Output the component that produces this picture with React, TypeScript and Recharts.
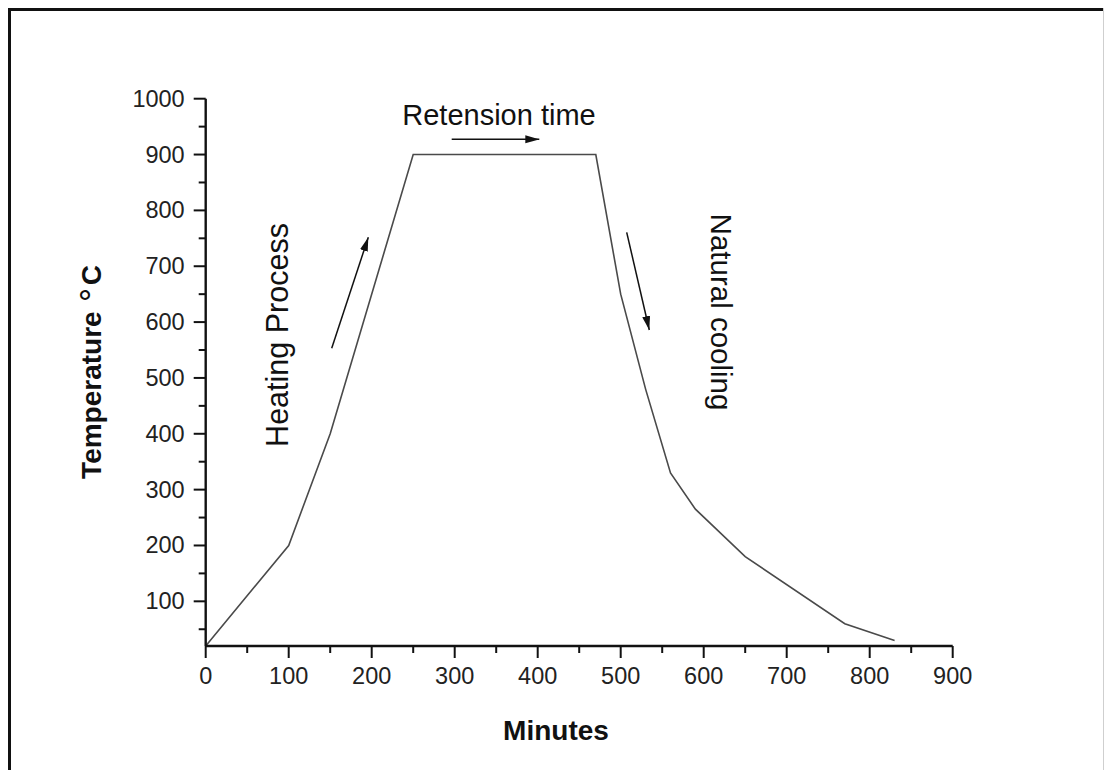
import React from "react";
import { LineChart, Line, XAxis, YAxis } from "recharts";

// heating / cooling profile
const minutes = [0, 100, 150, 250, 470, 500, 530, 560, 590, 650, 770, 830];
const temperature = [20, 200, 400, 900, 900, 650, 480, 330, 265, 180, 60, 30];

// major + minor ticks (minor ones carry no label)
const xTicks = [0, 50, 100, 150, 200, 250, 300, 350, 400, 450, 500, 550, 600, 650, 700, 750, 800, 850, 900];
const yTicks = [50, 100, 150, 200, 250, 300, 350, 400, 450, 500, 550, 600, 650, 700, 750, 800, 850, 900, 950, 1000];

const FONT = '"Liberation Sans", Arial, Helvetica, sans-serif';
const INK = "#111";

const data = minutes.map((m, i) => ({ minute: m, temp: temperature[i] }));

const YTick = ({ x, y, payload }: any) => {
    const major = payload.value % 100 === 0;
    return (
        <g>
            <line x1={x} x2={x - (major ? 12 : 7)} y1={y} y2={y} stroke={INK} strokeWidth={2} />
            {major && (
                <text x={x - 21} y={y + 8} textAnchor="end" fontSize={23.5} fontFamily={FONT} fill="#222">
                    {payload.value}
                </text>
            )}
        </g>
    );
};

const XTick = ({ x, y, payload }: any) => {
    const major = payload.value % 100 === 0;
    return (
        <g>
            <line x1={x} x2={x} y1={y} y2={y + (major ? 12 : 7)} stroke={INK} strokeWidth={2} />
            {major && (
                <text x={x} y={y + 38} textAnchor="middle" fontSize={23.5} fontFamily={FONT} fill="#222">
                    {payload.value}
                </text>
            )}
        </g>
    );
};

export default function App() {
    return (
        <div style={{ position: "absolute", left: 0, top: 0, width: 1105, height: 770, background: "#fff" }}>
            <LineChart
                width={1105}
                height={770}
                data={data}
                margin={{ top: 98.7, right: 152.3, bottom: 84, left: 125.7 }}
            >
                <XAxis
                    dataKey="minute"
                    type="number"
                    domain={[0, 900]}
                    ticks={xTicks}
                    interval={0}
                    tickLine={false}
                    tickSize={0}
                    tickMargin={0}
                    tick={<XTick />}
                    axisLine={{ stroke: INK, strokeWidth: 2.4 }}
                    height={40}
                />
                <XAxis
                    xAxisId="top"
                    orientation="top"
                    dataKey="minute"
                    type="number"
                    domain={[0, 900]}
                    tick={false}
                    tickLine={false}
                    axisLine={{ stroke: INK, strokeWidth: 2.4 }}
                    height={0}
                />
                <YAxis
                    type="number"
                    domain={[20, 1000]}
                    ticks={yTicks}
                    interval={0}
                    tickLine={false}
                    tickSize={0}
                    tickMargin={0}
                    tick={<YTick />}
                    axisLine={{ stroke: INK, strokeWidth: 2.4 }}
                    width={80}
                />
                <YAxis
                    yAxisId="right"
                    orientation="right"
                    type="number"
                    domain={[20, 1000]}
                    tick={false}
                    tickLine={false}
                    axisLine={{ stroke: INK, strokeWidth: 2.4 }}
                    width={0}
                />
                <Line
                    type="linear"
                    dataKey="temp"
                    stroke="#4a4a4a"
                    strokeWidth={1.6}
                    dot={false}
                    isAnimationActive={false}
                />
            </LineChart>

            {/* frame, axis titles and annotations */}
            <svg
                width={1105}
                height={770}
                style={{ position: "absolute", left: 0, top: 0, pointerEvents: "none" }}
            >
                <defs>
                    <marker id="head" markerUnits="userSpaceOnUse" markerWidth={14} markerHeight={10} refX={14} refY={5} orient="auto">
                        <path d="M0,1 L14,5 L0,9 Z" fill={INK} />
                    </marker>
                </defs>
                <line x1={9.5} y1={9.5} x2={1103.5} y2={9.5} stroke={INK} strokeWidth={3} />
                <line x1={9.5} y1={8} x2={9.5} y2={770} stroke={INK} strokeWidth={3} />
                <line x1={1103.5} y1={8} x2={1103.5} y2={770} stroke="#cfcfcf" strokeWidth={1} />

                <text
                    x={556}
                    y={740}
                    textAnchor="middle"
                    fontSize={28}
                    fontWeight="bold"
                    fontFamily={FONT}
                    fill={INK}
                >
                    Minutes
                </text>
                <text
                    transform="translate(101,372) rotate(-90)"
                    textAnchor="middle"
                    fontSize={28}
                    fontWeight="bold"
                    fontFamily={FONT}
                    fill={INK}
                >
                    Temperature
                    <tspan fontSize={32} fontWeight="normal" dx={6} dy={-7}>
                        ∘
                    </tspan>
                    <tspan dy={7}>C</tspan>
                </text>

                <text x={499} y={125} textAnchor="middle" fontSize={29} fontFamily={FONT} fill={INK}>
                    Retension time
                </text>
                <text
                    transform="translate(288,335) rotate(-90)"
                    textAnchor="middle"
                    fontSize={30.5}
                    fontFamily={FONT}
                    fill={INK}
                >
                    Heating Process
                </text>
                <text
                    transform="translate(711,312) rotate(90)"
                    textAnchor="middle"
                    fontSize={29.5}
                    fontFamily={FONT}
                    fill={INK}
                >
                    Natural cooling
                </text>

                <line x1={451.7} y1={139.3} x2={539.3} y2={139.3} stroke={INK} strokeWidth={1.5} markerEnd="url(#head)" />
                <line x1={331.7} y1={348.3} x2={368.3} y2={237.3} stroke={INK} strokeWidth={1.5} markerEnd="url(#head)" />
                <line x1={626.7} y1={232.3} x2={649.3} y2={330} stroke={INK} strokeWidth={1.5} markerEnd="url(#head)" />
            </svg>
        </div>
    );
}
